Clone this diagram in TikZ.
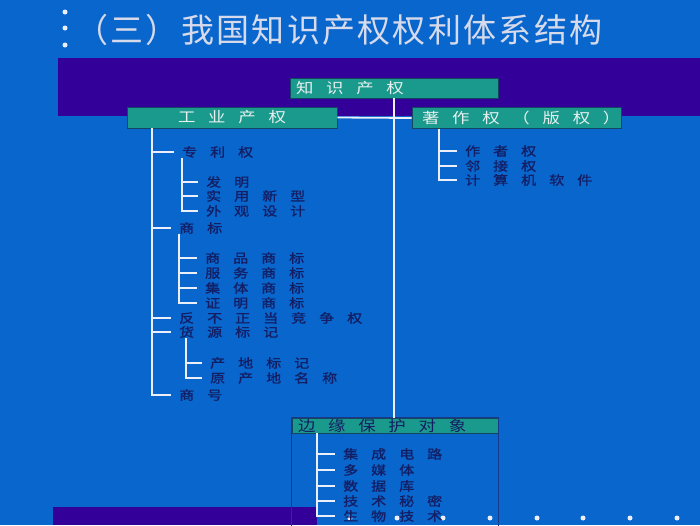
\documentclass[tikz,border=0pt]{standalone}
\usepackage{fontspec}
\setmainfont{Noto Sans CJK SC}
\newfontfamily\titlefont[LetterSpace=7]{Noto Sans CJK SC}
\newfontfamily\boxfont[FakeStretch=1.2,LetterSpace=88]{Noto Sans CJK SC}
\newfontfamily\itemfont[FakeStretch=1.2,FakeBold=1.2,LetterSpace=104]{Noto Sans CJK SC}
\definecolor{fondo}{RGB}{8,102,204}
\definecolor{franja}{RGB}{51,0,153}
\definecolor{caja}{RGB}{26,154,140}
\definecolor{borde}{RGB}{20,70,100}
\definecolor{marco}{RGB}{24,56,140}
\definecolor{letra}{RGB}{20,30,100}
\definecolor{claro}{RGB}{232,240,240}
\definecolor{linea}{RGB}{236,238,250}
\definecolor{titulo}{RGB}{215,218,235}

\begin{document}
\begin{tikzpicture}[x=1pt,y=-1pt,
		caja/.style={draw=borde,line width=0.8pt,fill=caja,inner ysep=0pt,
			minimum height=20pt,font=\boxfont\fontsize{14.5}{16}\selectfont,text=claro},
		hoja/.style={anchor=west,inner sep=0pt,
			font=\itemfont\fontsize{12.5}{14}\selectfont,text=letra},
		rama/.style={draw=linea,line width=1.8pt}]
	% Fondo, franjas y puntos
	\path[use as bounding box,fill=fondo] (0,0) rectangle (700,525);
	\fill[franja] (58,58) rectangle (700,116);
	\fill[franja] (53,507) rectangle (317,525);
	\foreach \y in {12,28,45}
		\fill[linea] (65,\y) circle (2.5);
	\foreach \x in {350,397,443,490,537,583,630,677}
		\fill[linea] (\x,518) circle (2.5);
	\node[anchor=west,inner sep=0pt,font=\titlefont\fontsize{33}{36}\selectfont,text=titulo]
		(tit) at (75,30) {（三）我国知识产权权利体系结构};

	% Cajas del árbol
	\node[caja,text width=196pt,inner xsep=6pt,align=left] (pi) at (394,88) {知识产权};
	\node[caja,text width=198pt,inner xsep=6pt,align=center,minimum height=21pt]
		(ind) at (232,117.5) {工业产权};
	\node[caja,text width=189pt,inner xsep=10pt,align=left,minimum height=21pt]
		(aut) at (516.5,118) {著作权（版权）};
	\node[caja,text width=194pt,inner xsep=6pt,align=left,minimum height=15pt,text=letra]
		(bor) at (395,425.5) {边缘保护对象};
	\coordinate (abajo) at (0,527);
	\draw[marco,line width=1.5pt] (bor.north west) rectangle (bor.east |- abajo);

	% Hojas
	\node[hoja] (zl) at (182,152) {专利权};
	\node[hoja] (fm) at (206,182) {发明};
	\node[hoja] (sx) at (206,196) {实用新型};
	\node[hoja] (wg) at (206,211) {外观设计};
	\node[hoja] (sb) at (179,228) {商标};
	\node[hoja] (sp) at (205,258) {商品商标};
	\node[hoja] (fw) at (205,273) {服务商标};
	\node[hoja] (jt) at (205,288) {集体商标};
	\node[hoja] (zm) at (205,303) {证明商标};
	\node[hoja] (fbz) at (179,318) {反不正当竞争权};
	\node[hoja] (hy) at (179,332) {货源标记};
	\node[hoja] (cd) at (210,363) {产地标记};
	\node[hoja] (yc) at (210,378) {原产地名称};
	\node[hoja] (sh) at (179,395) {商号};
	\node[hoja] (zzq) at (465,151) {作者权};
	\node[hoja] (ljq) at (465,166) {邻接权};
	\node[hoja] (rj) at (465,180) {计算机软件};
	\node[hoja] (jc) at (343,454) {集成电路};
	\node[hoja] (dm) at (343,470) {多媒体};
	\node[hoja] (sj) at (343,486) {数据库};
	\node[hoja] (js) at (343,501) {技术秘密};
	\node[hoja] (sw) at (343,516) {生物技术};

	% Ramas
	\draw[rama] (pi.south) -- (pi.south |- bor.north);
	\draw[rama] (ind.east) -- (aut.west);
	\foreach \n in {zl,sb,fbz,hy,sh}
		\draw[rama] ([xshift=25pt]ind.south west) |- ([xshift=-8pt]\n.west);
	\foreach \n in {fm,sx,wg}
		\draw[rama] (zl.south west) |- ([xshift=-8pt]\n.west);
	\foreach \n in {sp,fw,jt,zm}
		\draw[rama] (sb.south west) |- ([xshift=-8pt]\n.west);
	\foreach \n in {cd,yc}
		\draw[rama] ([xshift=7pt]hy.south west) |- ([xshift=-8pt]\n.west);
	\foreach \n in {zzq,ljq,rj}
		\draw[rama] ([xshift=27pt]aut.south west) |- ([xshift=-8pt]\n.west);
	\foreach \n in {jc,dm,sj,js,sw}
		\draw[rama] ([xshift=25pt]bor.south west) |- ([xshift=-8pt]\n.west);
\end{tikzpicture}
\end{document}
